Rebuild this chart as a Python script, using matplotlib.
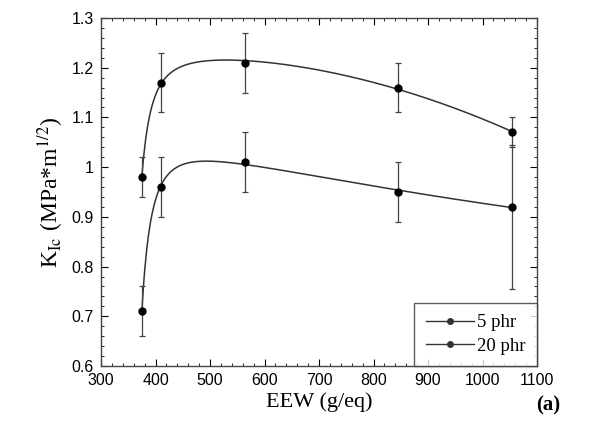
import numpy as np
import matplotlib.pyplot as plt
from matplotlib.ticker import MultipleLocator

plt.rcParams["mathtext.fontset"] = "stix"

# Data
eew = [375, 410, 565, 845, 1055]
k_5phr = [0.71, 0.96, 1.01, 0.95, 0.92]
err_5phr_lo = [0.05, 0.06, 0.06, 0.06, 0.165]
err_5phr_hi = [0.05, 0.06, 0.06, 0.06, 0.125]
k_20phr = [0.98, 1.17, 1.21, 1.16, 1.07]
err_20phr_lo = [0.04, 0.06, 0.06, 0.05, 0.03]
err_20phr_hi = [0.04, 0.06, 0.06, 0.05, 0.03]


def smooth_fit(x, y, x1=340.0):
    # least squares: quadratic trend plus a 1/(x-x1)^2 rise at low EEW
    x = np.asarray(x, float)
    y = np.asarray(y, float)

    def basis(xx):
        s = (xx - 700) / 400
        return np.column_stack([np.ones_like(s), s, s**2,
                                (35.0 / (xx - x1)) ** 2])

    coef, *_ = np.linalg.lstsq(basis(x), y, rcond=None)
    xf = np.linspace(x[0], x[-1], 400)
    return xf, basis(xf) @ coef


fig = plt.figure(figsize=(5.89, 4.34), dpi=100)
ax = fig.add_axes([101 / 589, 1 - 366 / 434, 436 / 589, 348 / 434])

for y, lo, hi, lab in [(k_5phr, err_5phr_lo, err_5phr_hi, "5 phr"),
                       (k_20phr, err_20phr_lo, err_20phr_hi, "20 phr")]:
    xf, yf = smooth_fit(eew, y)
    ax.plot(xf, yf, color="#333333", lw=1.1)
    ax.errorbar(eew, y, yerr=[lo, hi], fmt="none", ecolor="#444444",
                elinewidth=0.9, capsize=2.5, capthick=0.9)
    ax.plot(eew, y, "o", color="black", ms=5)
    ax.plot([], [], "-o", color="#333333", ms=4, lw=1.0, label=lab)

ax.set_xlim(300, 1100)
ax.set_ylim(0.6, 1.3)
ax.xaxis.set_major_locator(MultipleLocator(100))
ax.xaxis.set_minor_locator(MultipleLocator(20))
ax.yaxis.set_major_locator(MultipleLocator(0.1))
ax.yaxis.set_minor_locator(MultipleLocator(0.02))
ax.set_yticks(np.arange(0.6, 1.31, 0.1))
ax.set_yticklabels(["0.6", "0.7", "0.8", "0.9", "1", "1.1", "1.2", "1.3"])
ax.tick_params(which="both", direction="in", top=True, right=True,
               labelsize=11.5, pad=5)
for t in ax.get_xticklabels() + ax.get_yticklabels():
    t.set_family("Liberation Sans")
ax.tick_params(which="major", length=5)
ax.tick_params(which="minor", length=2.5)
for sp in ax.spines.values():
    sp.set_linewidth(1.0)
    sp.set_color("#444444")

serif = "Liberation Serif"
ax.set_xlabel("EEW (g/eq)", fontsize=16, family=serif, labelpad=3)
ax.set_ylabel(r"K$_{\mathrm{Ic}}$ (MPa*m$^{1/2}$)", fontsize=17,
              family=serif, labelpad=4)

leg = ax.legend(loc="lower right", prop={"family": serif, "size": 13.5},
                frameon=True, fancybox=False, edgecolor="#333333",
                borderaxespad=0, handlelength=2.6, handletextpad=0.15,
                labelspacing=0.35, borderpad=0.6)
leg.get_frame().set_linewidth(1.0)

fig.text(548 / 589, 1 - 405 / 434, "(a)", fontsize=15, family=serif,
         fontweight="bold", ha="center", va="center")

fig.savefig("out.png", dpi=100)
